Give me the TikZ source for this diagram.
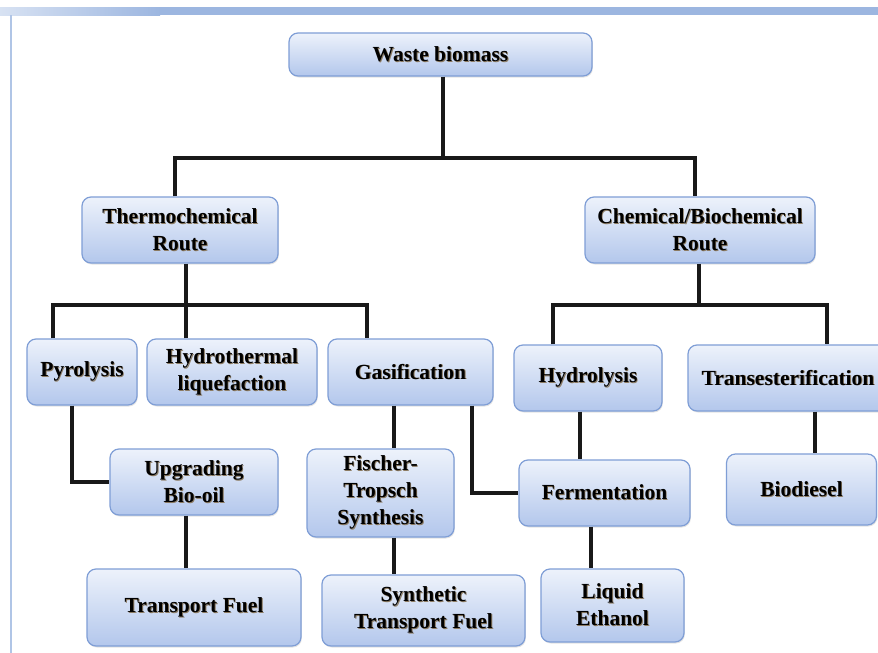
\documentclass[tikz,border=0pt]{standalone}
\usepackage{fontspec}
\setmainfont{Liberation Serif}
\usetikzlibrary{shadows}
\definecolor{boxtop}{HTML}{EDF2FB}
\definecolor{boxbot}{HTML}{B3C7EC}
\definecolor{boxline}{HTML}{7F9ED6}
\definecolor{barblue}{HTML}{9CB6E0}
\definecolor{shc}{HTML}{8C7B62}
\newcommand\shd[1]{\leavevmode\rlap{\raisebox{-0.9pt}{\hspace{0.9pt}\textcolor{shc}{#1}}}#1}
\tikzset{
  stagebox/.style={draw=boxline, line width=1.2pt, rounded corners=9pt,
    top color=boxtop, bottom color=boxbot, inner sep=2pt, align=center,
    font=\fontsize{21.5}{27}\selectfont\bfseries, text=black,
    drop shadow={shadow xshift=0.8pt, shadow yshift=-1.5pt, fill=black!30, opacity=0.35}},
  conn/.style={line width=3.3pt, black!90, line join=miter}
}
\begin{document}
\begin{tikzpicture}[x=1pt, y=-1pt]
\useasboundingbox (0,0) rectangle (878,653);
\fill[white] (0,0) rectangle (878,653);
% frame
\shade[left color=barblue!40, right color=barblue] (0,7) rectangle (160,15);
\fill[barblue] (159.5,7) rectangle (878,15);
\draw[barblue!80, line width=2pt] (10.5,15) -- (10.5,653);

% nodes
\node[stagebox, minimum width=303pt, minimum height=43pt] (wb) at (440.5,54.5) {\shd{Waste biomass}};
\node[stagebox, minimum width=196pt, minimum height=66pt] (th) at (180,230) {\shd{Thermochemical}\\\shd{Route}};
\node[stagebox, minimum width=230pt, minimum height=66pt] (ch) at (700,230) {\shd{Chemical/Biochemical}\\\shd{Route}};
\node[stagebox, minimum width=110pt, minimum height=66pt] (py) at (82,372) {\shd{Pyrolysis}};
\node[stagebox, minimum width=170pt, minimum height=66pt] (hy) at (232,372) {\shd{Hydrothermal}\\\shd{liquefaction}};
\node[stagebox, minimum width=165pt, minimum height=66pt] (ga) at (410.5,372) {\shd{Gasification}};
\node[stagebox, minimum width=148pt, minimum height=66pt] (hl) at (588,378) {\shd{Hydrolysis}};
\node[stagebox, minimum width=200pt, minimum height=66pt] (tr) at (788,378) {\shd{Transesterification}};
\node[stagebox, minimum width=168pt, minimum height=66pt] (up) at (194,482) {\shd{Upgrading}\\\shd{Bio-oil}};
\node[stagebox, minimum width=147pt, minimum height=88pt] (ft) at (380.5,493) {\shd{Fischer-}\\\shd{Tropsch}\\\shd{Synthesis}};
\node[stagebox, minimum width=171pt, minimum height=66pt] (fe) at (604.5,493) {\shd{Fermentation}};
\node[stagebox, minimum width=150pt, minimum height=71pt] (bd) at (801.5,489.5) {\shd{Biodiesel}};
\node[stagebox, minimum width=214pt, minimum height=77pt] (tf) at (194,607.5) {\shd{Transport Fuel}};
\node[stagebox, minimum width=203pt, minimum height=71pt] (st) at (423.5,610.5) {\shd{Synthetic}\\\shd{Transport Fuel}};
\node[stagebox, minimum width=143pt, minimum height=73pt] (le) at (612.5,605.5) {\shd{Liquid}\\\shd{Ethanol}};

% junction coordinates
\coordinate (j1) at (443,158);
\coordinate (j1l) at (175,158);
\coordinate (j1r) at (695,158);
\coordinate (j2) at (186,305);
\coordinate (j2l) at (53,305);
\coordinate (j2r) at (367,305);
\coordinate (j3) at (699,305);
\coordinate (j3l) at (553,305);
\coordinate (j3r) at (827,305);
\coordinate (k1) at (72,482);
\coordinate (k2) at (186,540);
\coordinate (k3) at (394,420);
\coordinate (k4) at (472,493);
\coordinate (k5) at (580,430);
\coordinate (k6) at (591,545);
\coordinate (k7) at (815,430);

% connectors
\draw[conn] (wb.south -| j1) -- (j1);
\draw[conn] (th.north -| j1l) -- (j1l) -- (j1r) -- (ch.north -| j1r);
\draw[conn] (th.south -| j2) -- (j2);
\draw[conn] (py.north -| j2l) -- (j2l) -- (j2r) -- (ga.north -| j2r);
\draw[conn] (hy.north -| j2) -- (j2);
\draw[conn] (ch.south -| j3) -- (j3);
\draw[conn] (hl.north -| j3l) -- (j3l) -- (j3r) -- (tr.north -| j3r);
\draw[conn] (py.south -| k1) |- (up.west);
\draw[conn] (up.south -| k2) -- (tf.north -| k2);
\draw[conn] (ga.south -| k3) -- (ft.north -| k3);
\draw[conn] (ft.south -| k3) -- (st.north -| k3);
\draw[conn] (ga.south -| k4) |- (fe.west);
\draw[conn] (hl.south -| k5) -- (fe.north -| k5);
\draw[conn] (fe.south -| k6) -- (le.north -| k6);
\draw[conn] (tr.south -| k7) -- (bd.north -| k7);
\end{tikzpicture}
\end{document}
